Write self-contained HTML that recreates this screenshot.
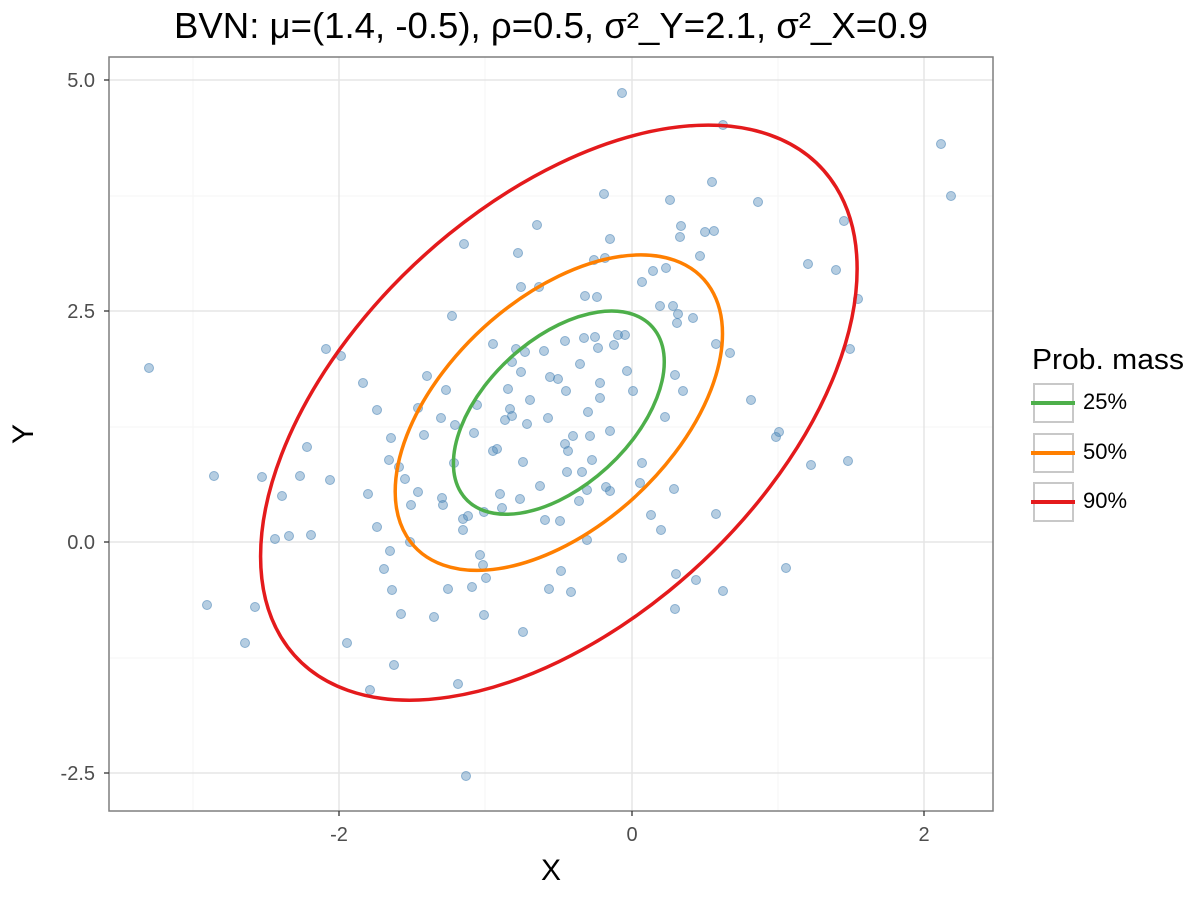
<!DOCTYPE html>
<html><head><meta charset="utf-8"><style>body{margin:0;background:#fff}svg{display:block}text{font-family:"Liberation Sans",sans-serif}</style></head>
<body>
<svg width="1200" height="900" viewBox="0 0 1200 900">
<rect width="1200" height="900" fill="#fff"/>
<g stroke="#f3f3f3" stroke-width="0.8">
<line x1="193" y1="57" x2="193" y2="811"/><line x1="485" y1="57" x2="485" y2="811"/><line x1="778" y1="57" x2="778" y2="811"/>
<line x1="109" y1="196" x2="993" y2="196"/><line x1="109" y1="427" x2="993" y2="427"/><line x1="109" y1="658" x2="993" y2="658"/>
</g>
<g stroke="#e5e5e5" stroke-width="1.5">
<line x1="339" y1="57" x2="339" y2="811"/><line x1="632" y1="57" x2="632" y2="811"/><line x1="924" y1="57" x2="924" y2="811"/>
<line x1="109" y1="80" x2="993" y2="80"/><line x1="109" y1="311" x2="993" y2="311"/><line x1="109" y1="542" x2="993" y2="542"/><line x1="109" y1="773" x2="993" y2="773"/>
</g>
<g fill="rgba(70,130,180,0.4)" stroke="rgba(70,130,180,0.55)" stroke-width="1">
<circle cx="149" cy="368" r="4.5"/><circle cx="207" cy="605" r="4.5"/><circle cx="214" cy="476" r="4.5"/><circle cx="245" cy="643" r="4.5"/><circle cx="255" cy="607" r="4.5"/><circle cx="262" cy="477" r="4.5"/><circle cx="275" cy="539" r="4.5"/><circle cx="282" cy="496" r="4.5"/><circle cx="289" cy="536" r="4.5"/><circle cx="300" cy="476" r="4.5"/><circle cx="307" cy="447" r="4.5"/><circle cx="311" cy="535" r="4.5"/><circle cx="326" cy="349" r="4.5"/><circle cx="341" cy="356" r="4.5"/><circle cx="330" cy="480" r="4.5"/><circle cx="363" cy="383" r="4.5"/><circle cx="347" cy="643" r="4.5"/><circle cx="370" cy="690" r="4.5"/><circle cx="368" cy="494" r="4.5"/><circle cx="377" cy="527" r="4.5"/><circle cx="384" cy="569" r="4.5"/><circle cx="391" cy="438" r="4.5"/><circle cx="389" cy="460" r="4.5"/><circle cx="392" cy="590" r="4.5"/><circle cx="394" cy="665" r="4.5"/><circle cx="399" cy="467" r="4.5"/><circle cx="401" cy="614" r="4.5"/><circle cx="405" cy="479" r="4.5"/><circle cx="411" cy="505" r="4.5"/><circle cx="418" cy="408" r="4.5"/><circle cx="418" cy="492" r="4.5"/><circle cx="424" cy="435" r="4.5"/><circle cx="427" cy="376" r="4.5"/><circle cx="434" cy="617" r="4.5"/><circle cx="441" cy="418" r="4.5"/><circle cx="442" cy="498" r="4.5"/><circle cx="443" cy="505" r="4.5"/><circle cx="446" cy="390" r="4.5"/><circle cx="452" cy="316" r="4.5"/><circle cx="448" cy="589" r="4.5"/><circle cx="454" cy="463" r="4.5"/><circle cx="458" cy="684" r="4.5"/><circle cx="463" cy="519" r="4.5"/><circle cx="463" cy="530" r="4.5"/><circle cx="464" cy="244" r="4.5"/><circle cx="468" cy="516" r="4.5"/><circle cx="472" cy="587" r="4.5"/><circle cx="474" cy="433" r="4.5"/><circle cx="477" cy="405" r="4.5"/><circle cx="483" cy="565" r="4.5"/><circle cx="484" cy="615" r="4.5"/><circle cx="486" cy="578" r="4.5"/><circle cx="484" cy="512" r="4.5"/><circle cx="493" cy="344" r="4.5"/><circle cx="493" cy="451" r="4.5"/><circle cx="497" cy="449" r="4.5"/><circle cx="500" cy="494" r="4.5"/><circle cx="502" cy="508" r="4.5"/><circle cx="505" cy="420" r="4.5"/><circle cx="508" cy="389" r="4.5"/><circle cx="512" cy="362" r="4.5"/><circle cx="510" cy="409" r="4.5"/><circle cx="512" cy="416" r="4.5"/><circle cx="516" cy="349" r="4.5"/><circle cx="518" cy="253" r="4.5"/><circle cx="520" cy="499" r="4.5"/><circle cx="523" cy="632" r="4.5"/><circle cx="521" cy="372" r="4.5"/><circle cx="521" cy="287" r="4.5"/><circle cx="523" cy="462" r="4.5"/><circle cx="525" cy="352" r="4.5"/><circle cx="527" cy="424" r="4.5"/><circle cx="530" cy="400" r="4.5"/><circle cx="537" cy="225" r="4.5"/><circle cx="539" cy="287" r="4.5"/><circle cx="540" cy="486" r="4.5"/><circle cx="544" cy="351" r="4.5"/><circle cx="545" cy="520" r="4.5"/><circle cx="548" cy="418" r="4.5"/><circle cx="549" cy="589" r="4.5"/><circle cx="550" cy="377" r="4.5"/><circle cx="558" cy="379" r="4.5"/><circle cx="560" cy="521" r="4.5"/><circle cx="561" cy="571" r="4.5"/><circle cx="565" cy="341" r="4.5"/><circle cx="565" cy="444" r="4.5"/><circle cx="566" cy="391" r="4.5"/><circle cx="567" cy="472" r="4.5"/><circle cx="568" cy="451" r="4.5"/><circle cx="571" cy="592" r="4.5"/><circle cx="573" cy="436" r="4.5"/><circle cx="579" cy="501" r="4.5"/><circle cx="580" cy="364" r="4.5"/><circle cx="582" cy="472" r="4.5"/><circle cx="584" cy="338" r="4.5"/><circle cx="585" cy="296" r="4.5"/><circle cx="587" cy="540" r="4.5"/><circle cx="587" cy="490" r="4.5"/><circle cx="588" cy="412" r="4.5"/><circle cx="590" cy="436" r="4.5"/><circle cx="592" cy="460" r="4.5"/><circle cx="594" cy="260" r="4.5"/><circle cx="595" cy="337" r="4.5"/><circle cx="597" cy="297" r="4.5"/><circle cx="598" cy="348" r="4.5"/><circle cx="600" cy="383" r="4.5"/><circle cx="600" cy="398" r="4.5"/><circle cx="604" cy="194" r="4.5"/><circle cx="605" cy="258" r="4.5"/><circle cx="606" cy="487" r="4.5"/><circle cx="610" cy="491" r="4.5"/><circle cx="610" cy="239" r="4.5"/><circle cx="610" cy="431" r="4.5"/><circle cx="614" cy="345" r="4.5"/><circle cx="618" cy="335" r="4.5"/><circle cx="622" cy="93" r="4.5"/><circle cx="625" cy="335" r="4.5"/><circle cx="627" cy="371" r="4.5"/><circle cx="633" cy="391" r="4.5"/><circle cx="640" cy="483" r="4.5"/><circle cx="642" cy="282" r="4.5"/><circle cx="642" cy="463" r="4.5"/><circle cx="651" cy="515" r="4.5"/><circle cx="653" cy="271" r="4.5"/><circle cx="660" cy="306" r="4.5"/><circle cx="661" cy="530" r="4.5"/><circle cx="665" cy="417" r="4.5"/><circle cx="666" cy="268" r="4.5"/><circle cx="670" cy="200" r="4.5"/><circle cx="673" cy="306" r="4.5"/><circle cx="675" cy="375" r="4.5"/><circle cx="674" cy="489" r="4.5"/><circle cx="675" cy="609" r="4.5"/><circle cx="676" cy="574" r="4.5"/><circle cx="677" cy="323" r="4.5"/><circle cx="678" cy="314" r="4.5"/><circle cx="680" cy="237" r="4.5"/><circle cx="681" cy="226" r="4.5"/><circle cx="683" cy="391" r="4.5"/><circle cx="693" cy="318" r="4.5"/><circle cx="696" cy="580" r="4.5"/><circle cx="700" cy="256" r="4.5"/><circle cx="705" cy="232" r="4.5"/><circle cx="712" cy="182" r="4.5"/><circle cx="714" cy="231" r="4.5"/><circle cx="716" cy="514" r="4.5"/><circle cx="716" cy="344" r="4.5"/><circle cx="723" cy="125" r="4.5"/><circle cx="723" cy="591" r="4.5"/><circle cx="730" cy="353" r="4.5"/><circle cx="751" cy="400" r="4.5"/><circle cx="776" cy="437" r="4.5"/><circle cx="779" cy="432" r="4.5"/><circle cx="786" cy="568" r="4.5"/><circle cx="758" cy="202" r="4.5"/><circle cx="808" cy="264" r="4.5"/><circle cx="811" cy="465" r="4.5"/><circle cx="836" cy="270" r="4.5"/><circle cx="844" cy="221" r="4.5"/><circle cx="850" cy="349" r="4.5"/><circle cx="848" cy="461" r="4.5"/><circle cx="858" cy="299" r="4.5"/><circle cx="941" cy="144" r="4.5"/><circle cx="951" cy="196" r="4.5"/><circle cx="466" cy="776" r="4.5"/><circle cx="410" cy="542" r="4.5"/><circle cx="390" cy="551" r="4.5"/><circle cx="377" cy="410" r="4.5"/><circle cx="455" cy="425" r="4.5"/><circle cx="480" cy="555" r="4.5"/><circle cx="622" cy="558" r="4.5"/>
</g>
<g fill="none" transform="matrix(138.99,-66.99,0,-116.03,558.85,412.64)">
<circle r="0.7585" stroke="#4daf4a" vector-effect="non-scaling-stroke" stroke-width="3.5"/>
<circle r="1.1774" stroke="#ff7f00" vector-effect="non-scaling-stroke" stroke-width="3.5"/>
<circle r="2.146" stroke="#e41a1c" vector-effect="non-scaling-stroke" stroke-width="3.5"/>
</g>
<rect x="109" y="57" width="884" height="754" fill="none" stroke="#7f7f7f" stroke-width="1.5"/>
<g stroke="#333" stroke-width="1.3">
<line x1="339" y1="811" x2="339" y2="816"/><line x1="632" y1="811" x2="632" y2="816"/><line x1="924" y1="811" x2="924" y2="816"/>
<line x1="104" y1="80" x2="109" y2="80"/><line x1="104" y1="311" x2="109" y2="311"/><line x1="104" y1="542" x2="109" y2="542"/><line x1="104" y1="773" x2="109" y2="773"/>
</g>
<g fill="#4d4d4d" font-size="20">
<text x="339" y="841" text-anchor="middle">-2</text><text x="632" y="841" text-anchor="middle">0</text><text x="924" y="841" text-anchor="middle">2</text>
<text x="95" y="87" text-anchor="end">5.0</text><text x="95" y="318" text-anchor="end">2.5</text><text x="95" y="549" text-anchor="end">0.0</text><text x="95" y="780" text-anchor="end">-2.5</text>
</g>
<text x="551" y="880" font-size="30" text-anchor="middle" fill="#000">X</text>
<text x="0" y="0" font-size="30" text-anchor="middle" fill="#000" transform="translate(33,434) rotate(-90)">Y</text>
<text x="174" y="38" font-size="36" fill="#000" textLength="754" lengthAdjust="spacingAndGlyphs">BVN: μ=(1.4, -0.5), ρ=0.5, σ²_Y=2.1, σ²_X=0.9</text>
<text x="1032" y="369" font-size="29" fill="#000" textLength="152" lengthAdjust="spacingAndGlyphs">Prob. mass</text>
<g fill="#fff" stroke="#c8c8c8" stroke-width="2">
<rect x="1034" y="384" width="39" height="38"/><rect x="1034" y="434" width="39" height="38"/><rect x="1034" y="483" width="39" height="38"/>
</g>
<g stroke-width="4">
<line x1="1031" y1="403" x2="1075" y2="403" stroke="#4daf4a"/>
<line x1="1031" y1="453" x2="1075" y2="453" stroke="#ff7f00"/>
<line x1="1031" y1="502" x2="1075" y2="502" stroke="#e41a1c"/>
</g>
<g font-size="22" fill="#000">
<text x="1083" y="409">25%</text><text x="1083" y="459">50%</text><text x="1083" y="508">90%</text>
</g>
</svg>
</body></html>
